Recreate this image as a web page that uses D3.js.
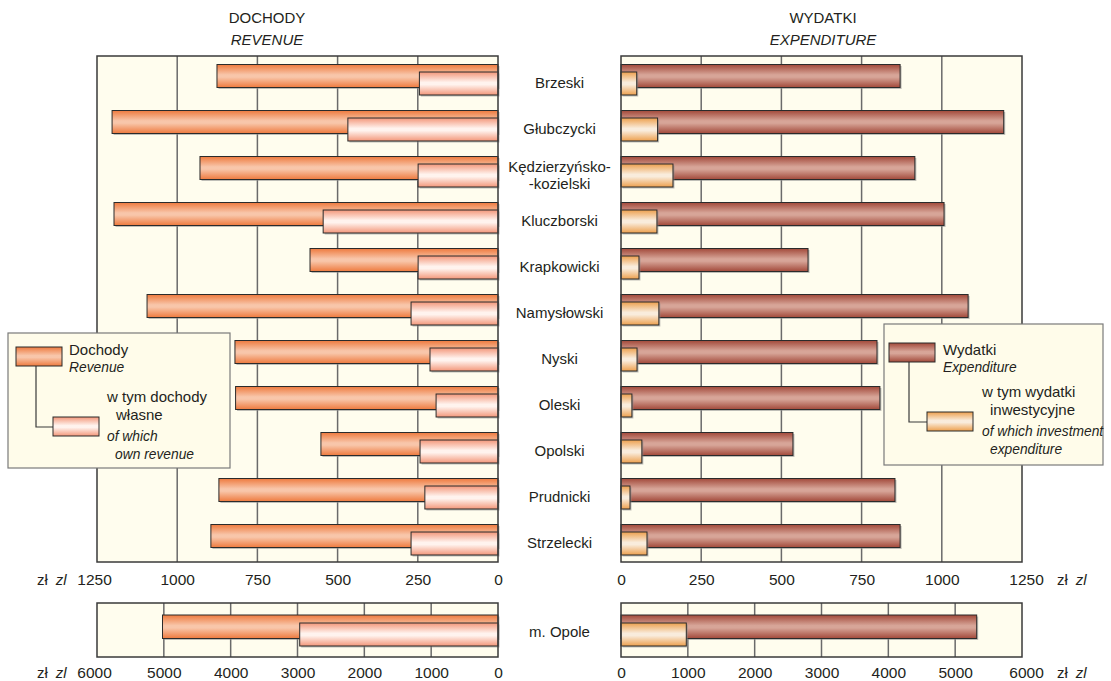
<!DOCTYPE html>
<html>
<head>
<meta charset="utf-8">
<script src="https://cdnjs.cloudflare.com/ajax/libs/d3/7.8.5/d3.min.js"></script>
<style>
  html, body { margin: 0; padding: 0; background: #ffffff; }
  svg text { font-family: "Liberation Sans", Arial, sans-serif; fill: #231f20; }
</style>
</head>
<body>
<svg id="chart" width="1111" height="681"></svg>
<script>
// Powiaty (districts) - values in zł per capita
const districts = ['Brzeski', 'Głubczycki', 'Kędzierzyńsko-|-kozielski', 'Kluczborski', 'Krapkowicki',
    'Namysłowski', 'Nyski', 'Oleski', 'Opolski', 'Prudnicki', 'Strzelecki'];
const revenue     = [876, 1203, 929, 1197, 586, 1094, 820, 818, 552, 870, 895];
const ownRevenue  = [245, 468, 249, 545, 249, 271, 212, 193, 243, 228, 271];
const expenditure = [870, 1193, 916, 1007, 583, 1082, 798, 807, 536, 854, 870];
const investment  = [49, 114, 162, 112, 56, 118, 50, 34, 65, 28, 81];

// City of Opole (separate scale)
const cityName = 'm. Opole';
const cityRevenue = 5020;
const cityOwnRevenue = 2967;
const cityExpenditure = 5322;
const cityInvestment = 977;

const mainTicks = [0, 250, 500, 750, 1000, 1250];
const cityTicks = [0, 1000, 2000, 3000, 4000, 5000, 6000];

(function() {
    'use strict';

    const svg = d3.select('#chart');
    const defs = svg.append('defs');

    // vertical "tube" gradients for the bars
    function tube(id, edge, mid) {
        const g = defs.append('linearGradient').attr('id', id)
            .attr('x1', 0).attr('x2', 0).attr('y1', 0).attr('y2', 1);
        [[0, edge], [0.45, mid], [0.55, mid], [1, edge]].forEach(s => {
            g.append('stop').attr('offset', s[0]).attr('stop-color', s[1]);
        });
    }
    tube('g-rev', '#ee7a3e', '#f8c6aa');
    tube('g-own', '#f3977a', '#fff3ee');
    tube('g-exp', '#a2493a', '#d7a598');
    tube('g-inv', '#eda04e', '#f9ecdc');

    const bg = '#fffdee';

    // panels
    const left = { x0: 498, x1: 97 };
    const right = { x0: 621, x1: 1022 };
    const top = { y0: 56, y1: 562 };
    const bottom = { y0: 603, y1: 657 };

    const xL = d3.scaleLinear().domain([0, 1250]).range([left.x0, left.x1]);
    const xR = d3.scaleLinear().domain([0, 1250]).range([right.x0, right.x1]);
    const xLc = d3.scaleLinear().domain([0, 6000]).range([left.x0, left.x1]);
    const xRc = d3.scaleLinear().domain([0, 6000]).range([right.x0, right.x1]);

    const y = d3.scaleBand().domain(districts).range([top.y0, top.y1]);

    function panel(x, ticks, y0, y1) {
        const r = x.range();
        const g = svg.append('g');
        g.append('rect')
            .attr('x', Math.min(r[0], r[1])).attr('y', y0)
            .attr('width', Math.abs(r[1] - r[0])).attr('height', y1 - y0)
            .attr('fill', bg);
        g.selectAll('line.grid').data(ticks.slice(1, -1)).enter().append('line')
            .attr('x1', d => x(d)).attr('x2', d => x(d))
            .attr('y1', y0).attr('y2', y1)
            .attr('stroke', '#6a6a6a').attr('stroke-width', 1.5);
        return g;
    }

    function frame(x, y0, y1) {
        const r = x.range();
        svg.append('rect')
            .attr('x', Math.min(r[0], r[1])).attr('y', y0)
            .attr('width', Math.abs(r[1] - r[0])).attr('height', y1 - y0)
            .attr('fill', 'none').attr('stroke', '#3a3a3a').attr('stroke-width', 1.5);
    }

    function bar(x, v, yy, h, fill) {
        const a = x(0), b = x(v);
        const bx = Math.min(a, b), bw = Math.abs(b - a);
        svg.append('rect')
            .attr('x', bx + 1.5).attr('y', yy + 1.5).attr('width', bw).attr('height', h)
            .attr('fill', '#8a8a8a').attr('opacity', 0.55);
        svg.append('rect')
            .attr('x', bx).attr('y', yy).attr('width', bw).attr('height', h)
            .attr('fill', 'url(#' + fill + ')')
            .attr('stroke', '#2b2b2b').attr('stroke-width', 1);
    }

    panel(xL, mainTicks, top.y0, top.y1);
    panel(xR, mainTicks, top.y0, top.y1);
    panel(xLc, cityTicks, bottom.y0, bottom.y1);
    panel(xRc, cityTicks, bottom.y0, bottom.y1);

    // district bars
    districts.forEach((d, i) => {
        const b = y(d);
        bar(xL, revenue[i], b + 8.5, 23, 'g-rev');
        bar(xL, ownRevenue[i], b + 16, 23, 'g-own');
        bar(xR, expenditure[i], b + 8.5, 23, 'g-exp');
        bar(xR, investment[i], b + 16, 23, 'g-inv');
    });

    // city bars
    bar(xLc, cityRevenue, bottom.y0 + 12, 23.5, 'g-rev');
    bar(xLc, cityOwnRevenue, bottom.y0 + 20, 23, 'g-own');
    bar(xRc, cityExpenditure, bottom.y0 + 12, 23.5, 'g-exp');
    bar(xRc, cityInvestment, bottom.y0 + 20, 23, 'g-inv');

    frame(xL, top.y0, top.y1);
    frame(xR, top.y0, top.y1);
    frame(xLc, bottom.y0, bottom.y1);
    frame(xRc, bottom.y0, bottom.y1);

    // district labels
    const cx = (left.x0 + right.x0) / 2;
    districts.forEach(d => {
        const lines = d.split('|');
        const mid = y(d) + y.bandwidth() / 2 + 9;
        const t = svg.append('text')
            .attr('x', cx).attr('text-anchor', 'middle')
            .style('font-size', '15px');
        lines.forEach((ln, k) => {
            t.append('tspan').attr('x', cx)
                .attr('y', mid + (k - (lines.length - 1) / 2) * 17)
                .text(ln);
        });
    });
    svg.append('text')
        .attr('x', cx).attr('y', (bottom.y0 + bottom.y1) / 2 + 7)
        .attr('text-anchor', 'middle').style('font-size', '15px')
        .text(cityName);

    // tick labels via axes
    function ticksAxis(x, ticks, yy, endShift) {
        const g = svg.append('g')
            .attr('transform', `translate(0, ${yy})`)
            .call(d3.axisBottom(x).tickValues(ticks).tickSize(0).tickPadding(0).tickFormat(d3.format('d')));
        g.select('.domain').remove();
        g.selectAll('text')
            .attr('y', 0).attr('dy', 0)
            .attr('fill', '#231f20')
            .style('font-family', '"Liberation Sans", Arial, sans-serif')
            .style('font-size', '15.5px')
            .attr('dx', d => d === ticks[ticks.length - 1] ? endShift : 0);
    }
    ticksAxis(xL, mainTicks, 585, -3);
    ticksAxis(xR, mainTicks, 585, 4);
    ticksAxis(xLc, cityTicks, 678, -3);
    ticksAxis(xRc, cityTicks, 678, 4);

    // currency units
    function unit(xs, yy) {
        const t = svg.append('text').attr('x', xs).attr('y', yy).style('font-size', '15px');
        t.append('tspan').text('zł');
        t.append('tspan').attr('dx', 8).style('font-style', 'italic').text('zl');
    }
    unit(37, 585);
    unit(37, 678);
    unit(1057, 585);
    unit(1057, 678);

    // titles
    function title(x, a, b) {
        svg.append('text').attr('x', x).attr('y', 23).attr('text-anchor', 'middle')
            .style('font-size', '15px').text(a);
        svg.append('text').attr('x', x).attr('y', 45).attr('text-anchor', 'middle')
            .style('font-size', '15px').style('font-style', 'italic').text(b);
    }
    title(267, 'DOCHODY', 'REVENUE');
    title(823, 'WYDATKI', 'EXPENDITURE');

    // legends
    function legend(box, sw1, sw2, f1, f2, lines1, lines2) {
        const g = svg.append('g');
        g.append('rect')
            .attr('x', box[0]).attr('y', box[1]).attr('width', box[2]).attr('height', box[3])
            .attr('fill', '#fffcea').attr('stroke', '#7a7a7a').attr('stroke-width', 1.2);
        const lx = sw1[0] + 20;
        g.append('path')
            .attr('d', `M${lx},${sw1[1] + 19} V${sw2[1] + 10} H${sw2[0]}`)
            .attr('fill', 'none').attr('stroke', '#3a3a3a').attr('stroke-width', 1.2);
        [[sw1, f1], [sw2, f2]].forEach(([s, f]) => {
            g.append('rect').attr('x', s[0]).attr('y', s[1]).attr('width', 46).attr('height', 19)
                .attr('fill', 'url(#' + f + ')').attr('stroke', '#2b2b2b').attr('stroke-width', 1);
        });
        lines1.concat(lines2).forEach(l => {
            g.append('text').attr('x', l[0]).attr('y', l[1])
                .style('font-size', l[3] ? '13.8px' : '15px')
                .style('font-style', l[3] ? 'italic' : 'normal')
                .text(l[2]);
        });
    }
    legend([8, 333, 222, 135], [16, 347], [53, 417], 'g-rev', 'g-own',
        [[69, 355, 'Dochody'], [69, 372, 'Revenue', true]],
        [[107, 402, 'w tym dochody'], [116, 420, 'własne'], [107, 441, 'of which', true], [115, 459, 'own revenue', true]]);
    legend([884, 324, 219, 141], [889, 343], [927, 412], 'g-exp', 'g-inv',
        [[943, 355, 'Wydatki'], [943, 372, 'Expenditure', true]],
        [[982, 397, 'w tym wydatki'], [990, 415, 'inwestycyjne'], [982, 436, 'of which investment', true], [990, 454, 'expenditure', true]]);
})();
</script>
</body>
</html>
